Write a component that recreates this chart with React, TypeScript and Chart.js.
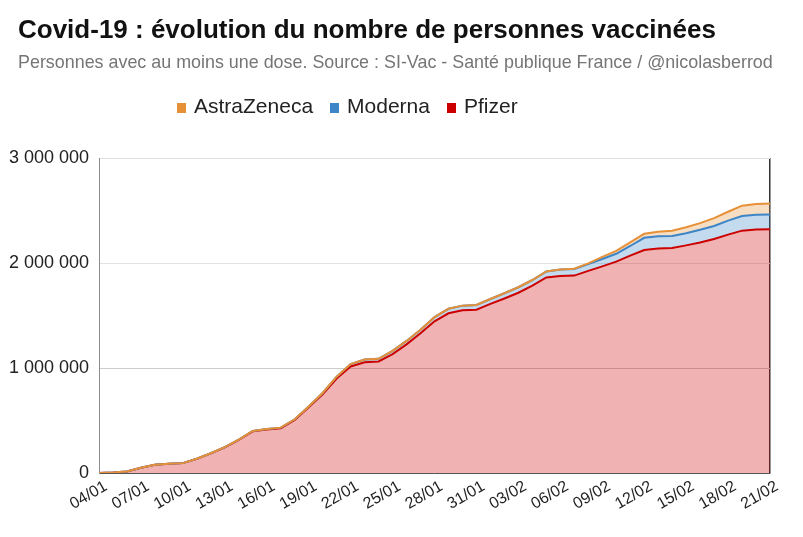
import { useEffect, useRef } from 'react';
import { Chart, registerables } from 'chart.js';

Chart.register(...registerables);

const dates = [
  '04/01', '05/01', '06/01', '07/01', '08/01', '09/01', '10/01', '11/01', '12/01', '13/01',
  '14/01', '15/01', '16/01', '17/01', '18/01', '19/01', '20/01', '21/01', '22/01', '23/01',
  '24/01', '25/01', '26/01', '27/01', '28/01', '29/01', '30/01', '31/01', '01/02', '02/02',
  '03/02', '04/02', '05/02', '06/02', '07/02', '08/02', '09/02', '10/02', '11/02', '12/02',
  '13/02', '14/02', '15/02', '16/02', '17/02', '18/02', '19/02', '20/02', '21/02',
];

const pfizer = [
  0, 5000, 15000, 50000, 78000, 88000, 94000, 136000, 187000, 245000,
  315000, 397000, 415000, 426000, 505000, 625000, 750000, 900000, 1015000, 1055000,
  1062000, 1133000, 1225000, 1330000, 1445000, 1521000, 1550000, 1555000, 1610000, 1662000,
  1717000, 1784000, 1862000, 1876000, 1880000, 1925000, 1968000, 2013000, 2070000, 2124000,
  2138000, 2142000, 2168000, 2196000, 2229000, 2270000, 2308000, 2320000, 2322000,
];

const moderna = [
  0, 0, 0, 0, 0, 0, 0, 0, 1000, 2000,
  3000, 4000, 5000, 6000, 7000, 9000, 12000, 17000, 22000, 25000,
  26000, 30000, 33000, 35000, 39000, 43000, 44000, 45000, 47000, 50000,
  52000, 54000, 58000, 62000, 63000, 66000, 70000, 75000, 92000, 116000,
  116000, 116000, 116000, 120000, 124000, 134000, 140000, 140000, 140000,
];

const astrazeneca = [
  0, 0, 0, 0, 0, 0, 0, 0, 0, 0,
  0, 0, 0, 0, 0, 0, 0, 0, 0, 0,
  0, 0, 0, 0, 0, 0, 0, 0, 0, 0,
  0, 0, 0, 0, 2000, 6000, 20000, 28000, 34000, 38000,
  44000, 50000, 57000, 64000, 74000, 84000, 98000, 102000, 104000,
];

const yTicks = [0, 1000000, 2000000, 3000000];

const legendItems = [
  { name: 'AstraZeneca', color: '#e69138' },
  { name: 'Moderna', color: '#3d85c6' },
  { name: 'Pfizer', color: '#cc0000' },
];

const FONT = '"Liberation Sans", Arial, sans-serif';

function fmt(v: number): string {
  return String(Math.round(v)).replace(/\B(?=(\d{3})+(?!\d))/g, ' ');
}

// stacked tops (built from the series above), so the top line is drawn last
const pfizerTop = pfizer.slice();
const modernaTop = pfizer.map((v, i) => v + moderna[i]);
const astraTop = modernaTop.map((v, i) => v + astrazeneca[i]);

export default function App() {
  const ref = useRef<HTMLCanvasElement>(null);

  useEffect(() => {
    const chart = new Chart(ref.current as HTMLCanvasElement, {
      type: 'line',
      data: {
        labels: dates,
        datasets: [
          {
            label: 'AstraZeneca',
            data: astraTop,
            borderColor: '#e69138',
            backgroundColor: 'rgba(230,145,56,0.3)',
            fill: '+1',
          },
          {
            label: 'Moderna',
            data: modernaTop,
            borderColor: '#3d85c6',
            backgroundColor: 'rgba(61,133,198,0.3)',
            fill: '+1',
          },
          {
            label: 'Pfizer',
            data: pfizerTop,
            borderColor: '#cc0000',
            backgroundColor: 'rgba(204,0,0,0.3)',
            fill: 'origin',
          },
        ],
      },
      options: {
        responsive: false,
        animation: false,
        layout: { padding: { top: 158, right: 33, left: 0, bottom: 0 } },
        plugins: {
          legend: { display: false },
          tooltip: { enabled: false },
          filler: { drawTime: 'beforeDatasetsDraw' },
        },
        elements: {
          point: { radius: 0 },
          line: { borderWidth: 2, tension: 0 },
        },
        scales: {
          x: {
            grid: {
              drawTicks: false,
              color: (ctx: any) => (ctx.index === dates.length - 1 ? '#333333' : 'rgba(0,0,0,0)'),
              lineWidth: 1.5,
            },
            border: { display: true, color: '#555555', width: 1 },
            ticks: {
              autoSkip: false,
              minRotation: 30,
              maxRotation: 30,
              padding: 4,
              labelOffset: 7,
              color: '#222222',
              font: { family: FONT, size: 16 },
              callback: (_v: any, i: number) => (i % 3 === 0 ? dates[i] : ''),
            },
            afterFit: (s: any) => {
              s.height = 64;
            },
          },
          y: {
            min: 0,
            max: 3000000,
            grid: {
              drawTicks: false,
              color: (ctx: any) => (ctx.tick && ctx.tick.value === 1000000 ? '#cccccc' : '#e2e2e2'),
            },
            border: { display: true, color: '#8c8c8c', width: 1 },
            afterBuildTicks: (s: any) => {
              s.ticks = yTicks.map((v) => ({ value: v }));
            },
            ticks: {
              padding: 10,
              color: '#222222',
              font: { family: FONT, size: 18 },
              callback: (v: any) => fmt(Number(v)),
            },
            afterFit: (s: any) => {
              s.width = 99;
            },
          },
        },
      },
    });
    return () => chart.destroy();
  }, []);

  return (
    <div style={{ position: 'fixed', left: 0, top: 0, width: 803, height: 537, background: '#fff', overflow: 'hidden' }}>
      <canvas ref={ref} width={803} height={537} style={{ position: 'absolute', left: 0, top: 0 }} />
      <div
        style={{
          position: 'absolute',
          left: 18,
          top: 16,
          font: `bold 26px ${FONT}`,
          lineHeight: '26px',
          color: '#111',
          whiteSpace: 'nowrap',
        }}
      >
        Covid-19 : évolution du nombre de personnes vaccinées
      </div>
      <div
        style={{
          position: 'absolute',
          left: 18,
          top: 53,
          font: `17.9px ${FONT}`,
          lineHeight: '18px',
          color: '#757575',
          whiteSpace: 'nowrap',
        }}
      >
        Personnes avec au moins une dose. Source : SI-Vac - Santé publique France / @nicolasberrod
      </div>
      <div
        style={{
          position: 'absolute',
          left: 177,
          top: 95,
          display: 'flex',
          alignItems: 'center',
          font: `21px ${FONT}`,
          lineHeight: '21px',
          color: '#222',
          whiteSpace: 'nowrap',
        }}
      >
        {legendItems.map((it) => (
          <span key={it.name} style={{ display: 'flex', alignItems: 'center', marginRight: 17 }}>
            <span style={{ display: 'inline-block', width: 9, height: 10, background: it.color, marginRight: 8, marginTop: 4 }} />
            <span>{it.name}</span>
          </span>
        ))}
      </div>
    </div>
  );
}
